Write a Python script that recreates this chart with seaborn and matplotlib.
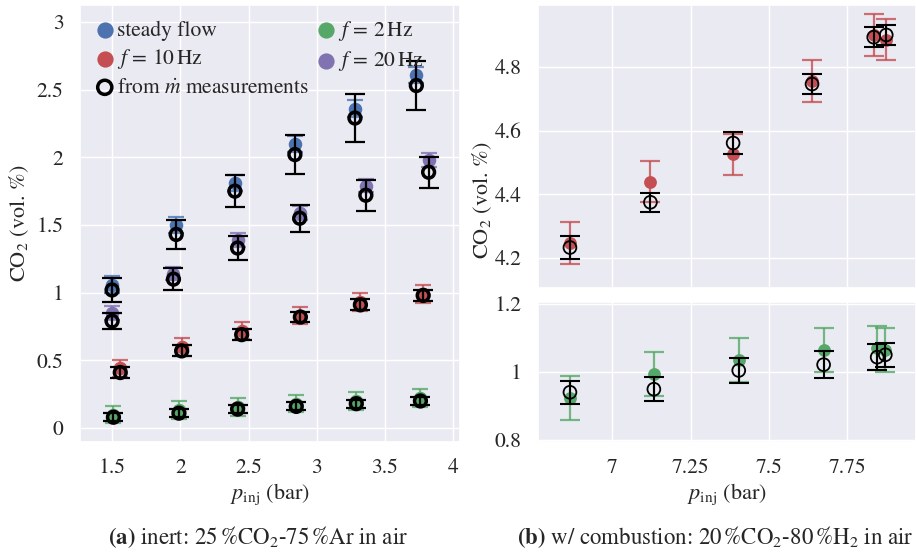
import numpy as np
import matplotlib
matplotlib.use("Agg")
import matplotlib.pyplot as plt
import seaborn as sns

# ---------------- data: panel (a) ----------------
steady_x = [1.50, 1.97, 2.40, 2.84, 3.28, 3.73]
steady_y = [1.06, 1.50, 1.81, 2.10, 2.36, 2.61]
steady_err = [0.06, 0.06, 0.06, 0.06, 0.06, 0.06]
steady_mdot = [1.02, 1.43, 1.75, 2.02, 2.29, 2.53]
steady_mdot_err = [0.09, 0.105, 0.12, 0.145, 0.175, 0.18]

f2_x = [1.51, 1.99, 2.42, 2.85, 3.29, 3.76]
f2_y = [0.10, 0.135, 0.157, 0.18, 0.20, 0.22]
f2_err = [0.065, 0.065, 0.065, 0.065, 0.065, 0.065]
f2_mdot = [0.08, 0.11, 0.14, 0.16, 0.18, 0.20]
f2_mdot_err = [0.03, 0.03, 0.03, 0.03, 0.03, 0.03]

f10_x = [1.56, 2.01, 2.45, 2.88, 3.32, 3.78]
f10_y = [0.44, 0.60, 0.72, 0.83, 0.93, 0.99]
f10_err = [0.065, 0.065, 0.065, 0.065, 0.065, 0.065]
f10_mdot = [0.41, 0.57, 0.69, 0.82, 0.91, 0.98]
f10_mdot_err = [0.04, 0.04, 0.04, 0.04, 0.04, 0.04]

f20_x = [1.50, 1.95, 2.42, 2.875, 3.36, 3.82]
f20_y = [0.85, 1.14, 1.39, 1.59, 1.79, 1.98]
f20_err = [0.05, 0.05, 0.05, 0.05, 0.05, 0.05]
f20_mdot = [0.79, 1.10, 1.33, 1.55, 1.72, 1.89]
f20_mdot_err = [0.06, 0.08, 0.085, 0.10, 0.115, 0.115]

# ---------------- data: panel (b) ----------------
comb10_x = [6.865, 7.122, 7.386, 7.638, 7.835, 7.875]
comb10_y = [4.247, 4.44, 4.525, 4.756, 4.90, 4.885]
comb10_err = [0.066, 0.065, 0.065, 0.066, 0.066, 0.065]
comb10_mdot = [4.233, 4.375, 4.561, 4.746, 4.893, 4.90]
comb10_mdot_err = [0.036, 0.03, 0.033, 0.03, 0.032, 0.032]

comb2_x = [6.865, 7.133, 7.404, 7.675, 7.846, 7.872]
comb2_y = [0.923, 0.993, 1.035, 1.065, 1.07, 1.065]
comb2_err = [0.065, 0.065, 0.065, 0.065, 0.065, 0.065]
comb2_mdot = [0.94, 0.949, 1.004, 1.021, 1.043, 1.05]
comb2_mdot_err = [0.034, 0.035, 0.038, 0.04, 0.038, 0.036]

left_xticks = [1.5, 2, 2.5, 3, 3.5, 4]
left_yticks = [0, 0.5, 1, 1.5, 2, 2.5, 3]
right_xticks = [7, 7.25, 7.5, 7.75]
top_yticks = [4.2, 4.4, 4.6, 4.8]
bot_yticks = [0.8, 1, 1.2]

BLUE, GREEN, RED, PURPLE = "#4C72B0", "#55A868", "#C44E52", "#8172B2"

sns.set_theme(style="darkgrid")
plt.rcParams["font.family"] = ["STIXGeneral", "DejaVu Serif"]
plt.rcParams["mathtext.fontset"] = "stix"
plt.rcParams["axes.unicode_minus"] = False
FS_TICK = 15.5
FS_LAB = 16
FS_LEG = 15.5
FS_CAP = 16.5

W, H = 916, 553
fig = plt.figure(figsize=(W / 100, H / 100), dpi=100)

def rect(x0, y0, x1, y1):
    return [x0 / W, 1 - y1 / H, (x1 - x0) / W, (y1 - y0) / H]

axL = fig.add_axes(rect(80, 5, 460, 442))
axT = fig.add_axes(rect(538, 5, 916, 288))
axB = fig.add_axes(rect(538, 302, 916, 442))

def fmt(v):
    return ("%g" % v)

def colored(ax, x, y, err, color, label, s=95, cap=6):
    ax.errorbar(x, y, yerr=err, fmt="none", ecolor=color, elinewidth=1.6,
                capsize=cap, capthick=1.6, alpha=0.8, zorder=2)
    sns.scatterplot(x=x, y=y, ax=ax, color=color, s=s, linewidth=0,
                    label=label, zorder=3)

def hollow(ax, x, y, err, label, s=72, lw=2.5, cap=7, elw=1.6):
    ax.errorbar(x, y, yerr=err, fmt="none", ecolor="black", elinewidth=elw,
                capsize=cap, capthick=elw, zorder=4)
    sns.scatterplot(x=x, y=y, ax=ax, color="black", s=s, linewidth=lw,
                    label=label, zorder=5)
    ax.collections[-1].set_facecolor("none")
    ax.collections[-1].set_edgecolor("black")

# ---- panel (a)
colored(axL, steady_x, steady_y, steady_err, BLUE, "steady flow")
colored(axL, f2_x, f2_y, f2_err, GREEN, r"$f\,=\,2\,\mathrm{Hz}$")
colored(axL, f10_x, f10_y, f10_err, RED, r"$f\,=\,10\,\mathrm{Hz}$")
colored(axL, f20_x, f20_y, f20_err, PURPLE, r"$f\,=\,20\,\mathrm{Hz}$")
hollow(axL, steady_x, steady_mdot, steady_mdot_err, r"from $\dot{m}$ measurements")
hollow(axL, f2_x, f2_mdot, f2_mdot_err, None)
hollow(axL, f10_x, f10_mdot, f10_mdot_err, None)
hollow(axL, f20_x, f20_mdot, f20_mdot_err, None)

axL.set_xlim(1.265, 4.05)
axL.set_ylim(-0.103, 3.125)
axL.set_xticks(left_xticks)
axL.set_xticklabels([fmt(v) for v in left_xticks], fontsize=FS_TICK)
axL.set_yticks(left_yticks)
axL.set_yticklabels([fmt(v) for v in left_yticks], fontsize=FS_TICK)
axL.set_xlabel(r"$p_{\mathrm{inj}}$ (bar)", fontsize=FS_LAB, labelpad=2)
axL.set_ylabel(r"CO$_2$ (vol. $\%$)", fontsize=FS_LAB, labelpad=4)

h, l = axL.get_legend_handles_labels()
d = dict(zip(l, h))
order = ["steady flow", r"$f\,=\,10\,\mathrm{Hz}$", r"from $\dot{m}$ measurements",
         r"$f\,=\,2\,\mathrm{Hz}$", r"$f\,=\,20\,\mathrm{Hz}$"]
axL.legend([d[k] for k in order], order, ncol=2, loc="upper left", frameon=False,
           fontsize=FS_LEG, handletextpad=0.05, columnspacing=0.3, labelspacing=0.3,
           borderaxespad=0.45, handlelength=1.0, borderpad=0.2, markerscale=1.2)

# ---- panel (b) top
colored(axT, comb10_x, comb10_y, comb10_err, RED, None, s=85, cap=7)
hollow(axT, comb10_x, comb10_mdot, comb10_mdot_err, None, s=85, lw=1.3, cap=7, elw=1.5)
axT.set_xlim(6.763, 7.97)
axT.set_ylim(4.106, 4.994)
axT.set_xticks(right_xticks)
axT.set_xticklabels([])
axT.set_yticks(top_yticks)
axT.set_yticklabels([fmt(v) for v in top_yticks], fontsize=FS_TICK)
if axT.get_legend():
    axT.get_legend().remove()

# ---- panel (b) bottom
colored(axB, comb2_x, comb2_y, comb2_err, GREEN, None, s=85, cap=7)
hollow(axB, comb2_x, comb2_mdot, comb2_mdot_err, None, s=85, lw=1.3, cap=7, elw=1.5)
axB.set_xlim(6.763, 7.97)
axB.set_ylim(0.794, 1.205)
axB.set_xticks(right_xticks)
axB.set_xticklabels([fmt(v) for v in right_xticks], fontsize=FS_TICK)
axB.set_yticks(bot_yticks)
axB.set_yticklabels([fmt(v) for v in bot_yticks], fontsize=FS_TICK)
axB.set_xlabel(r"$p_{\mathrm{inj}}$ (bar)", fontsize=FS_LAB, labelpad=2)
if axB.get_legend():
    axB.get_legend().remove()

for ax in (axL, axT, axB):
    ax.tick_params(axis="both", pad=6)

fig.text(482 / W, 1 - 200 / H, r"CO$_2$ (vol. $\%$)", rotation=90, fontsize=FS_LAB,
         ha="center", va="center")

fig.text(258 / W, 1 - 537 / H, r"$\mathbf{(a)}$ inert: 25$\,$%CO$_2$-75$\,$%Ar in air",
         fontsize=FS_CAP, ha="center", va="center")
fig.text(715 / W, 1 - 537 / H,
         r"$\mathbf{(b)}$ w/ combustion: 20$\,$%CO$_2$-80$\,$%H$_2$ in air",
         fontsize=FS_CAP, ha="center", va="center")

fig.savefig("out.png", dpi=100)
